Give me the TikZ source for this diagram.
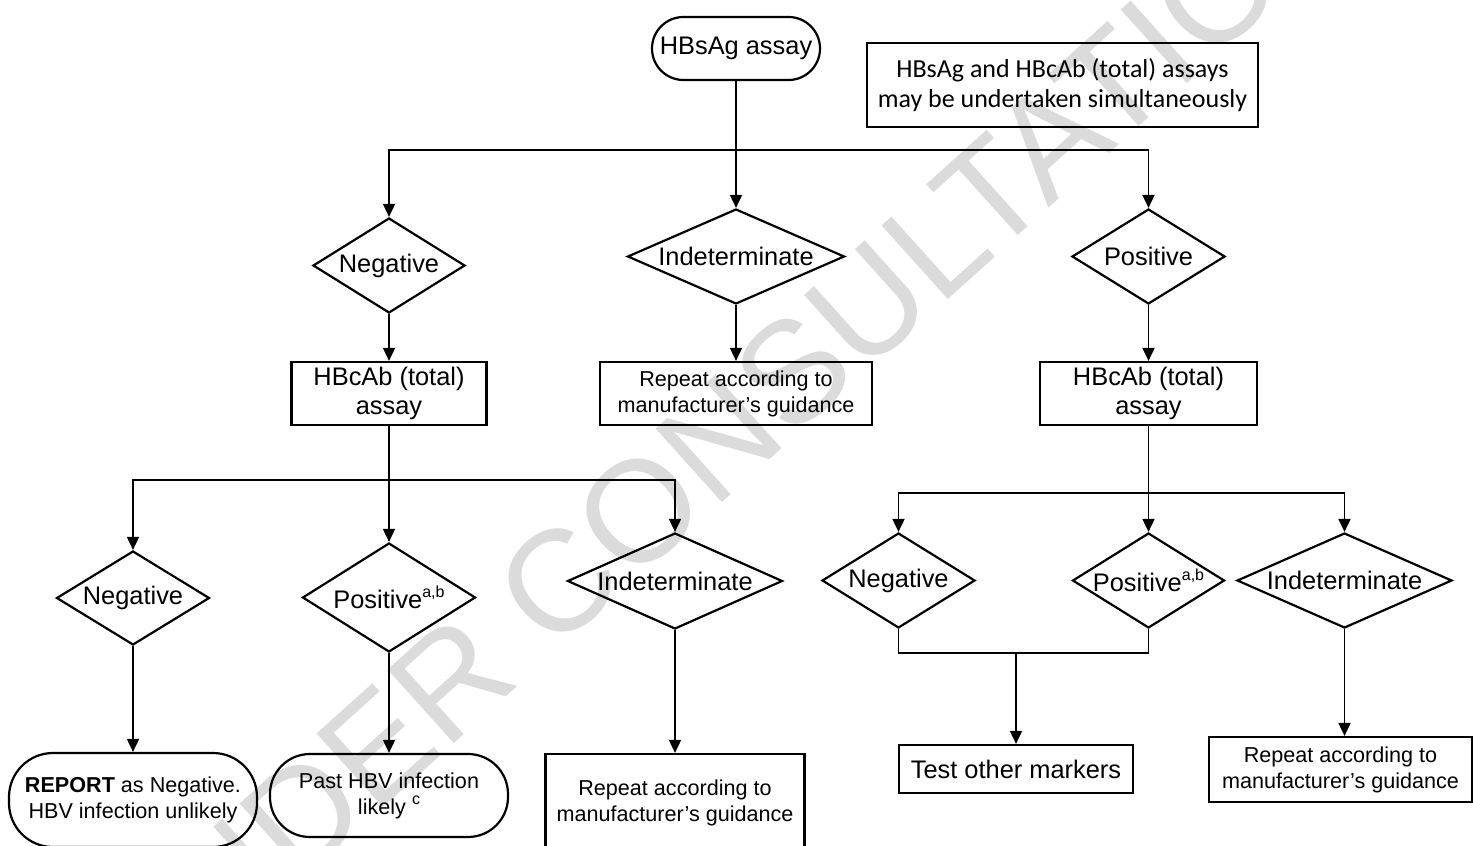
\documentclass[tikz,border=0pt]{standalone}
\usepackage{fontspec}
\setmainfont{Liberation Sans}
\newfontfamily\calibrifont{Carlito}
\usetikzlibrary{shapes.geometric,shapes.misc,arrows.meta}
\newcommand{\supx}[1]{\raisebox{0.45em}{\fontsize{8}{8}\selectfont #1}}
\begin{document}
\begin{tikzpicture}[x=0.5pt,y=-0.5pt,
  bigtxt/.style={font=\fontsize{12.7}{14.5}\selectfont},
  smalltxt/.style={font=\fontsize{10.8}{13}\selectfont},
  shp/.style={draw=black,line width=1.1pt,inner sep=0pt,align=center},
  decision/.style={shp,diamond,bigtxt},
  boxnode/.style={shp,rectangle},
  stadium/.style={shp,rectangle,rounded corners=20pt,smalltxt},
  arr/.style={line width=0.9pt,-{Triangle[length=6.5pt,width=6pt]}},
  ln/.style={line width=0.9pt},
  wmark/.style={text=black!14,font=\fontsize{72}{72}\selectfont,inner sep=0pt}
]
\useasboundingbox (0,0) rectangle (1473,846);
% watermark
\node[wmark,rotate=42] (wm) at (722,436) {UNDER CONSULTATION};

% top
\node[shp,rounded rectangle,bigtxt,minimum width=84pt,minimum height=31.5pt] (hbsag) at (736,48.5) {HBsAg assay};
\node[boxnode,minimum width=195.5pt,minimum height=42pt,font=\calibrifont\fontsize{13}{15}\selectfont] (note) at (1062.5,85) {HBsAg and HBcAb (total) assays\\may be undertaken simultaneously};

\node[decision,aspect=1.6,minimum width=76pt,minimum height=47.5pt] (neg1) at (389,265.5) {Negative};
\node[decision,aspect=2.28,minimum width=108.5pt,minimum height=47.5pt] (ind1) at (736,256.5) {Indeterminate};
\node[decision,aspect=1.6,minimum width=76.5pt,minimum height=47.5pt] (pos1) at (1148.5,256.5) {Positive};

\node[boxnode,bigtxt,minimum width=97.5pt,minimum height=31.5pt] (hbc1) at (389,393.5) {HBcAb (total)\\assay};
\node[boxnode,smalltxt,minimum width=136pt,minimum height=31.5pt] (rep1) at (736,393.5) {Repeat according to\\manufacturer’s guidance};
\node[boxnode,bigtxt,minimum width=108.5pt,minimum height=31.5pt] (hbc2) at (1148.5,393.5) {HBcAb (total)\\assay};

% second level left
\node[decision,aspect=1.62,minimum width=76.5pt,minimum height=47pt] (neg2) at (133,598) {Negative};
\node[decision,aspect=1.58,minimum width=86.5pt,minimum height=54.5pt] (pos2) at (389,597.5) {Positive\supx{a,b}};
\node[decision,aspect=2.24,minimum width=107.5pt,minimum height=48pt] (ind2) at (675,581) {Indeterminate};

% second level right
\node[decision,aspect=1.6,minimum width=76.5pt,minimum height=47.5pt] (neg3) at (898.5,580.5) {Negative};
\node[decision,aspect=1.6,minimum width=76pt,minimum height=47.5pt] (pos3) at (1148.5,580.5) {Positive\supx{a,b}};
\node[decision,aspect=2.26,minimum width=107.5pt,minimum height=47.5pt] (ind3) at (1344.5,580.5) {Indeterminate};

% bottom
\node[stadium,minimum width=124pt,minimum height=47pt,rounded corners=22pt] (report) at (133,800) {\textbf{REPORT} as Negative.\\HBV infection unlikely};
\node[stadium,minimum width=119pt,minimum height=41.5pt] (past) at (389,795.5) {Past HBV infection\\likely \supx{c}};
\node[boxnode,smalltxt,minimum width=129.5pt,minimum height=49pt] (rep2) at (675,803) {Repeat according to\\manufacturer’s guidance};
\node[boxnode,bigtxt,minimum width=117pt,minimum height=24pt] (test) at (1016,769) {Test other markers};
\node[boxnode,smalltxt,minimum width=131.5pt,minimum height=32.5pt] (rep3) at (1340.5,769.5) {Repeat according to\\manufacturer’s guidance};

% connectors top
\coordinate (s1) at (736,150);
\draw[arr] (hbsag.south) -- (ind1.north);
\draw[arr] (s1) -| (neg1.north);
\draw[arr] (s1) -| (pos1.north);
\draw[arr] (neg1.south) -- (hbc1.north);
\draw[arr] (ind1.south) -- (rep1.north);
\draw[arr] (pos1.south) -- (hbc2.north);

% left branch
\coordinate (s2) at (389,480);
\draw[arr] (hbc1.south) -- (pos2.north);
\draw[arr] (s2) -| (neg2.north);
\draw[arr] (s2) -| (ind2.north);
\draw[arr] (neg2.south) -- (report.north);
\draw[arr] (pos2.south) -- (past.north);
\draw[arr] (ind2.south) -- (rep2.north);

% right branch
\coordinate (s3) at (1148.5,493);
\draw[arr] (hbc2.south) -- (pos3.north);
\draw[arr] (s3) -| (neg3.north);
\draw[arr] (s3) -| (ind3.north);
\coordinate (j) at (1016,653);
\draw[ln] (neg3.south) |- (j) -| (pos3.south);
\draw[arr] (j) -- (test.north);
\draw[arr] (ind3.south) -- (ind3.south |- rep3.north);
\end{tikzpicture}
\end{document}
